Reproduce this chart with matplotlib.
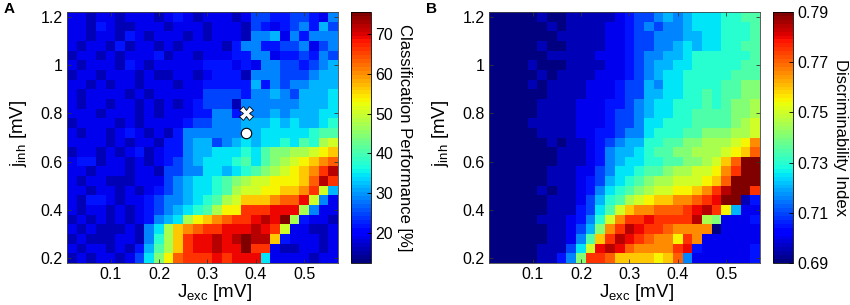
import numpy as np
import matplotlib
matplotlib.use("Agg")
import matplotlib.pyplot as plt

plt.rcParams['font.family'] = ['Liberation Sans', 'DejaVu Sans']
plt.rcParams['mathtext.default'] = 'regular'

# grid centres (mV)
j_exc = [0.02, 0.04, 0.06, 0.08, 0.10, 0.12, 0.14, 0.16, 0.18, 0.20, 0.22, 0.24, 0.26, 0.28,
         0.30, 0.32, 0.34, 0.36, 0.38, 0.40, 0.42, 0.44, 0.46, 0.48, 0.50, 0.52, 0.54, 0.56]
j_inh = [1.20, 1.16, 1.12, 1.08, 1.04, 1.00, 0.96, 0.92, 0.88, 0.84, 0.80, 0.76, 0.72,
         0.68, 0.64, 0.60, 0.56, 0.52, 0.48, 0.44, 0.40, 0.36, 0.32, 0.28, 0.24, 0.20]

# cell values, one char per cell, top row first.
# char index i (0..20) -> fraction i/20 of the colour range
LEVELS = "0123456789ABCDEFGHIJK"

perf_rows = [
    "2212212221232122212443344325",
    "2213211222122212221432345364",
    "2212213212221212221556253555",
    "2122131221212222135533445245",
    "1221212223122122233552334354",
    "2122213212222233323255443456",
    "1221222121122123331555444566",
    "2212122122212233333635455666",
    "2122221212222244443556546667",
    "2122122121212344415555556667",
    "2221222121222335535556566677",
    "1222212122223445556667676678",
    "2122123212135555556677777899",
    "22221212213356645676778798BC",
    "122121231233566777879AABBCDE",
    "233122121234567778979ABCDEFG",
    "22122212214455776789ABCDEFHJ",
    "21221112224567789ABCCDDDEGJH",
    "22122121234567789BCCDDEEFHC6",
    "2133212234556789BCEEEFGGIC52",
    "212212123456789BDDHHHIIIB522",
    "121212123567BDEFGHHIJIKB3221",
    "2121112157BEFGHHIIIJIHC22112",
    "1211122158BEHIIJIJKJJE322212",
    "2122121369BEHIIJIIKHH2112212",
    "121221247ADGHHHIHIII72222122",
]

disc_rows = [
    "0000010011111234456567778899",
    "0000001011112234545567778889",
    "0000000111112234455566778889",
    "0000010011112234455676778899",
    "0000001111122234556678888889",
    "0000100011112234566778888899",
    "0000010111122234567788888999",
    "00001011112223446577888899AA",
    "00000011112223446677889899AA",
    "0000011112223345677888989AAB",
    "0000011112223445677889999AAB",
    "0000111112223445778889999ABC",
    "0000011112233455788899AAABBC",
    "00000010112345668899AABBBCDF",
    "0000000111235667899AABBBCDEG",
    "00000001112356778899AABCEGKK",
    "000000111224577899ABBCCDFHKK",
    "0000001112346789ABBCCCDEGKKK",
    "000001011235789ABCCDDEFHJKKH",
    "00000011124689BCDEEFFGHIKK13",
    "0000001113479CEFFGGGHIJHD622",
    "000001112358CFHHIHHHHJBA2223",
    "00000011246AFHJIHHGFFFF02222",
    "00000011259EHJIHGFFDHF222222",
    "0000011147CIJIGFFFFHI3222223",
    "000001135AHHGEEEEDEG52222223",
]

perf_range = (12.5, 75.5)
disc_range = (0.69, 0.79)
perf_ticks = [20, 30, 40, 50, 60, 70]
disc_ticks = [0.69, 0.71, 0.73, 0.75, 0.77, 0.79]
x_ticks = [0.1, 0.2, 0.3, 0.4, 0.5]
y_ticks = [0.2, 0.4, 0.6, 0.8, 1.0, 1.2]
y_ticklabels = ['0.2', '0.4', '0.6', '0.8', '1', '1.2']

# marked points in panel A
cross_pt = (0.38, 0.80)
circle_pt = (0.38, 0.72)


def decode(rows, lo, hi):
    grid = np.array([[LEVELS.index(c) for c in r] for r in rows], dtype=float)
    return lo + grid / 20.0 * (hi - lo)


perf = decode(perf_rows, *perf_range)
disc = decode(disc_rows, *disc_range)

cmap = plt.get_cmap('jet', 64)

fig = plt.figure(figsize=(8.5, 3.05), dpi=100)
W, H = 850.0, 305.0
bot = 1 - 263 / H
hgt = 251 / H

panels = [
    (67, 351, perf, perf_range, perf_ticks, 'Classification Performance [%]', 'A'),
    (489, 773, disc, disc_range, disc_ticks, 'Discriminability Index', 'B'),
]

for left, cleft, data, rng, cticks, clabel, letter in panels:
    ax = fig.add_axes([left / W, bot, 271 / W, hgt])
    mesh = ax.pcolormesh(j_exc, j_inh, data, cmap=cmap, vmin=rng[0], vmax=rng[1],
                         shading='nearest')
    ax.set_xlim(0.01, 0.57)
    ax.set_ylim(0.18, 1.22)
    ax.set_xticks(x_ticks)
    ax.set_xticklabels(['0.1', '0.2', '0.3', '0.4', '0.5'])
    ax.set_yticks(y_ticks)
    ax.set_yticklabels(y_ticklabels)
    ax.tick_params(direction='in', top=True, right=True, length=3, width=0.6,
                   labelsize=11.5, pad=3, color='#333333')
    for s in ax.spines.values():
        s.set_linewidth(0.6)
        s.set_color('#444444')
    ax.set_xlabel(r'$J_{exc}$ [mV]', fontsize=13.5)
    ax.set_ylabel(r'$j_{inh}$ [mV]', fontsize=13.5)
    ax.xaxis.set_label_coords(0.545, -0.075)
    ax.yaxis.set_label_coords(-0.14, 0.515)

    cax = fig.add_axes([cleft / W, bot, 20 / W, hgt])
    cb = fig.colorbar(mesh, cax=cax, ticks=cticks)
    if letter == 'B':
        cb.ax.set_yticklabels([f'{t:.2f}' for t in cticks])
    cb.ax.tick_params(direction='in', length=3, width=0.6, labelsize=11.5, pad=3)
    cb.outline.set_linewidth(0.6)
    cb.set_label(clabel, rotation=270, fontsize=12, labelpad=14)

    fig.text((left - 63) / W, 1 - 9 / H, letter, fontsize=11, fontweight='bold',
             va='center', ha='left')

    if letter == 'A':
        ax.plot(*circle_pt, marker='o', ms=7.5, mfc='white', mec='black', mew=0.8)
        ax.plot(*cross_pt, marker='X', ms=9.5, mfc='white', mec='black', mew=0.6)

fig.savefig('out.png', dpi=100)
